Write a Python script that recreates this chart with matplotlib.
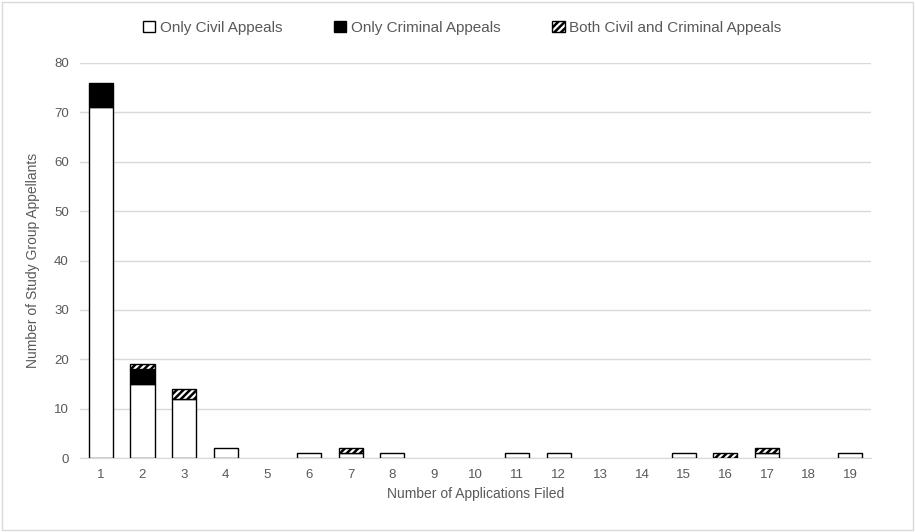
import matplotlib.pyplot as plt
import numpy as np

applications = list(range(1, 20))
civil =    [71, 15, 12, 2, 0, 1, 1, 1, 0, 0, 1, 1, 0, 0, 1, 0, 1, 0, 1]
criminal = [5, 3, 0, 0, 0, 0, 0, 0, 0, 0, 0, 0, 0, 0, 0, 0, 0, 0, 0]
both =     [0, 1, 2, 0, 0, 0, 1, 0, 0, 0, 0, 0, 0, 0, 0, 1, 1, 0, 0]


def main():
    plt.rcParams['font.family'] = ['Liberation Sans', 'DejaVu Sans']
    plt.rcParams['hatch.linewidth'] = 1.8
    txt = '#595959'

    fig = plt.figure(figsize=(9.15, 5.32), dpi=100)
    ax = fig.add_axes([0.0874, 0.139, 0.8646, 0.7426])

    x = np.array(applications)
    civil_a = np.array(civil)
    crim_a = np.array(criminal)
    both_a = np.array(both)
    w = 0.58

    # skip zero-height segments so no flat lines show up
    m1 = civil_a > 0
    m2 = crim_a > 0
    m3 = both_a > 0
    b1 = ax.bar(x[m1], civil_a[m1], w, color='white', edgecolor='black', linewidth=1.0,
                label='Only Civil Appeals', zorder=3)
    b2 = ax.bar(x[m2], crim_a[m2], w, bottom=civil_a[m2], color='black', edgecolor='black',
                linewidth=1.0, label='Only Criminal Appeals', zorder=3)
    b3 = ax.bar(x[m3], both_a[m3], w, bottom=(civil_a + crim_a)[m3], color='white',
                edgecolor='black', hatch='/////', linewidth=1.0,
                label='Both Civil and Criminal Appeals', zorder=3)

    ax.set_xlim(0.5, 19.5)
    ax.set_ylim(0, 80)
    ax.set_yticks(range(0, 81, 10))
    ax.set_xticks(x)
    ax.grid(axis='y', color='#d9d9d9', linewidth=1.0, zorder=0)
    for s in ['top', 'right', 'left']:
        ax.spines[s].set_visible(False)
    ax.spines['bottom'].set_color('#d9d9d9')
    ax.tick_params(length=0, colors=txt, labelsize=9.5, pad=8)

    ax.set_xlabel('Number of Applications Filed', color=txt, fontsize=10, labelpad=4)
    ax.set_ylabel('Number of Study Group Appellants', color=txt, fontsize=10, labelpad=10)

    leg = fig.legend(handles=[b1, b2, b3], loc='center', bbox_to_anchor=(0.505, 0.948),
                     ncol=3, frameon=False, fontsize=11, handlelength=0.8, handleheight=0.8,
                     handletextpad=0.3, columnspacing=3.4)
    for t in leg.get_texts():
        t.set_color(txt)

    # light border around the whole chart
    fig.patches.append(plt.Rectangle((0.002, 0.003), 0.996, 0.994, transform=fig.transFigure,
                                     fill=False, edgecolor='#d9d9d9', linewidth=1.0))

    fig.savefig('out.png', dpi=100)
    return 0


if __name__ == '__main__':
    main()
